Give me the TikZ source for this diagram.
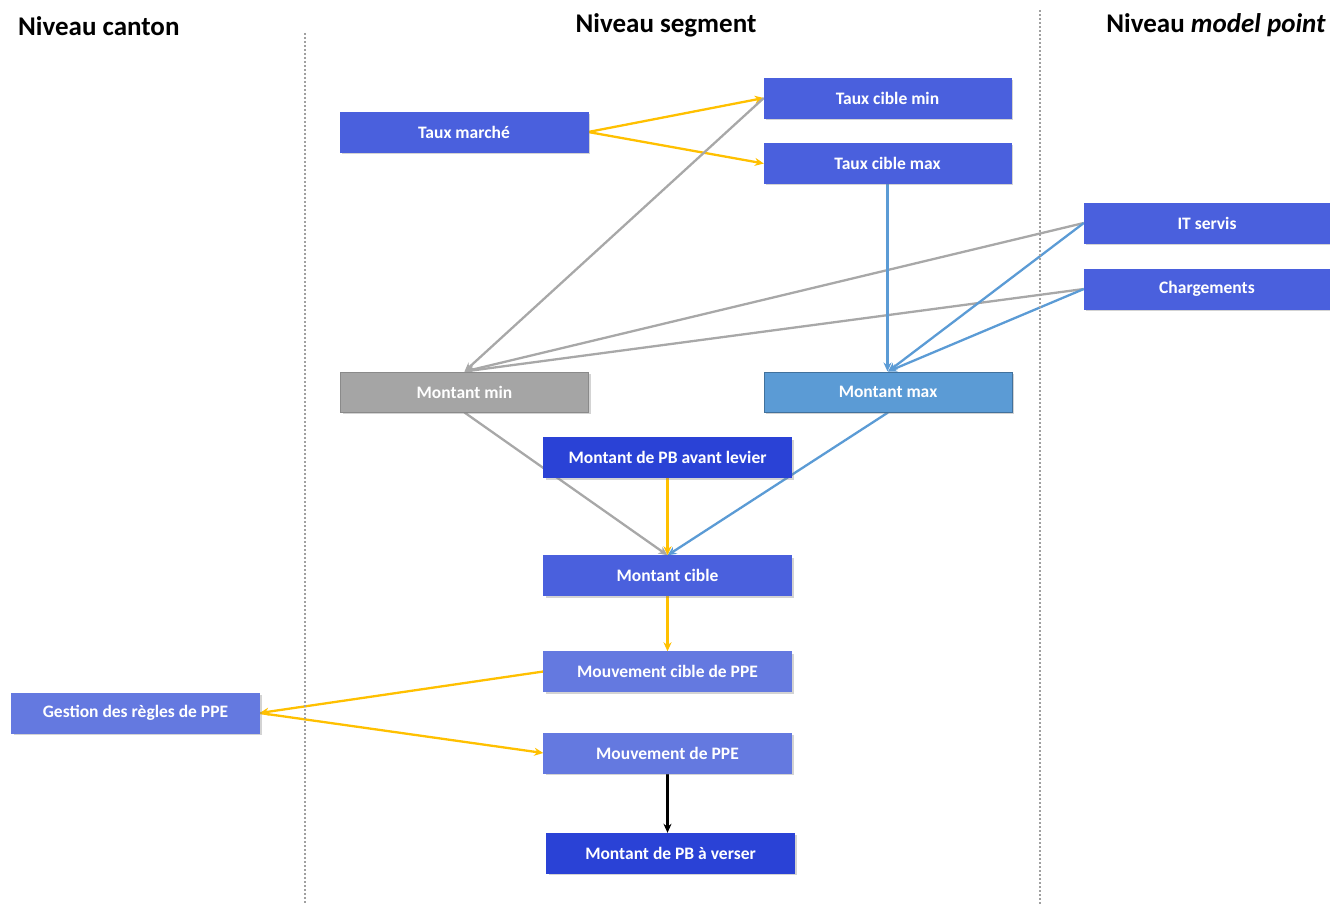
\documentclass[tikz,border=0pt]{standalone}
\usepackage{fontspec}
\setmainfont{Carlito}
\usetikzlibrary{arrows.meta,shadows,backgrounds}
\definecolor{bmain}{HTML}{4A60DD}
\definecolor{bdark}{HTML}{2A42D6}
\definecolor{blight}{HTML}{6479E0}
\definecolor{gbox}{HTML}{A5A5A5}
\definecolor{gborder}{HTML}{8A8A8A}
\definecolor{sky}{HTML}{5B9BD5}
\definecolor{skyborder}{HTML}{41719C}
\definecolor{ylw}{HTML}{FFC000}
\definecolor{glin}{HTML}{A8A8A8}
\definecolor{sep}{HTML}{A0A0A0}
\tikzset{
  box/.style={rectangle, minimum width=248pt, minimum height=40pt, inner sep=0pt,
    text=white, font=\bfseries\fontsize{17.5}{20}\selectfont,
    drop shadow={shadow xshift=2pt, shadow yshift=-2pt, opacity=0.35, fill=gray}},
  bmainbox/.style={box, fill=bmain, draw=bmain},
  bdarkbox/.style={box, fill=bdark, draw=bdark},
  blightbox/.style={box, fill=blight, draw=blight},
  title/.style={font=\bfseries\fontsize{27}{30}\selectfont, text=black, inner sep=0pt},
  arr/.style={line width=2.3pt, -{Stealth[length=9pt,width=8pt]}},
  yarr/.style={arr, draw=ylw},
  garr/.style={arr, draw=glin},
  barr/.style={arr, draw=sky},
  karr/.style={arr, draw=black},
  sepline/.style={draw=sep, line width=2pt, dash pattern=on 2pt off 2pt}
}
\begin{document}
\begin{tikzpicture}[x=1pt,y=-1pt]
\useasboundingbox (0,0) rectangle (1330,904);
% titles
\node[title, anchor=west] (t1) at (18,26) {Niveau canton};
\node[title] (t2) at (666,25) {Niveau segment};
\node[title, anchor=east] (t3) at (1326,25) {Niveau \textit{model point}};
% separators
\coordinate (s1a) at (305,33); \coordinate (s1b) at (305,904);
\coordinate (s2a) at (1040,10); \coordinate (s2b) at (1040,904);
\draw[sepline] (s1a) -- (s1b);
\draw[sepline] (s2a) -- (s2b);
% nodes
\node[bmainbox] (tm) at (464,132) {Taux marché};
\node[bmainbox, minimum width=247pt] (tcmin) at (887.5,98) {Taux cible min};
\node[bmainbox, minimum width=247pt] (tcmax) at (887.5,163.5) {Taux cible max};
\node[bmainbox, minimum width=246pt] (it) at (1207,223) {IT servis};
\node[bmainbox, minimum width=246pt] (ch) at (1207,289) {Chargements};
\node[box, fill=gbox, draw=gborder, line width=1pt] (mmin) at (464.5,392) {Montant min};
\node[box, fill=sky, draw=skyborder, line width=1pt] (mmax) at (888,392) {Montant max};
\node[bdarkbox] (pbav) at (667.5,457.5) {Montant de PB avant levier};
\node[bmainbox] (mc) at (667.5,575.5) {Montant cible};
\node[blightbox] (mcppe) at (667.5,671.5) {Mouvement cible de PPE};
\node[blightbox] (gest) at (135.5,713) {Gestion des règles de PPE};
\node[blightbox] (mppe) at (667.5,753) {Mouvement de PPE};
\node[bdarkbox] (pbv) at (670.5,853) {Montant de PB à verser};
% connectors
\begin{scope}[on background layer]
\draw[yarr] (tm.east) -- (tcmin.west);
\draw[yarr] (tm.east) -- (tcmax.west);
\draw[garr] (tcmin.west) -- (mmin.north);
\draw[garr] (it.west) -- (mmin.north);
\draw[garr] (ch.west) -- (mmin.north);
\draw[barr] (tcmax.south) -- (tcmax.south |- mmax.north);
\draw[barr] (it.west) -- (mmax.north);
\draw[barr] (ch.west) -- (mmax.north);
\draw[garr] (mmin.south) -- (mc.north);
\draw[barr] (mmax.south) -- (mc.north);
\draw[yarr] (pbav.south) -- (mc.north);
\draw[yarr] (mc.south) -- (mcppe.north);
\draw[yarr] (mcppe.west) -- (gest.east);
\draw[yarr] (gest.east) -- (mppe.west);
\draw[karr] (mppe.south) -- (mppe.south |- pbv.north);
\end{scope}
\end{tikzpicture}
\end{document}
